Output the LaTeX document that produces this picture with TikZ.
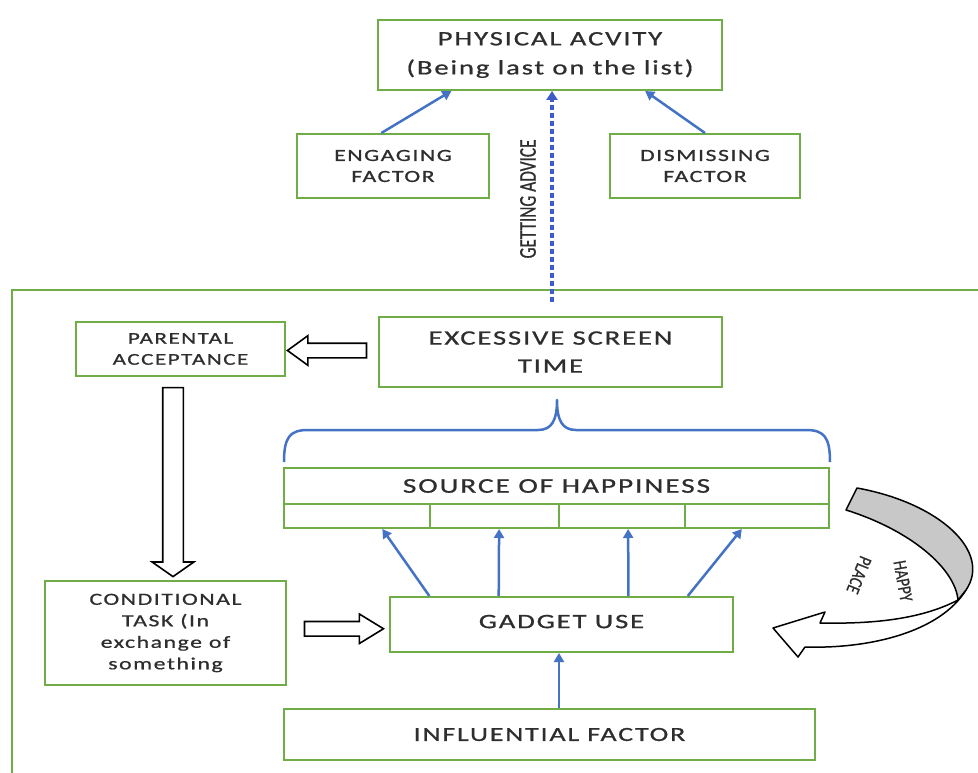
\documentclass[tikz,border=0pt]{standalone}
\usepackage{fontspec}
\setmainfont{Carlito}
\newfontfamily\wf[FakeStretch=1.4,LetterSpace=9,FakeBold=0.8]{Carlito}
\newfontfamily\nf[FakeStretch=0.72,FakeBold=0.6]{Carlito}
\newfontfamily\hf[FakeStretch=0.8,FakeBold=0.5]{Carlito}
\usetikzlibrary{arrows.meta,shapes.arrows,calc}
\definecolor{boxgreen}{HTML}{70AD47}
\definecolor{arrblue}{HTML}{4472C4}
\definecolor{dashblue}{HTML}{3F5BC8}
\definecolor{txt}{HTML}{2E2E2E}
\definecolor{ribbon}{HTML}{C8C8C8}
\begin{document}
\begin{tikzpicture}[x=1pt,y=-1pt,
  gbox/.style={draw=boxgreen,line width=2pt,fill=white,inner sep=0pt,align=center,text=txt},
  barrow/.style={draw=arrblue,line width=2.5pt,-{Triangle[length=9pt,width=10pt]}},
  hollow/.style={single arrow,draw=black,line width=1.6pt,fill=white,inner xsep=0pt},
  curvetext/.style={font=\hf\fontsize{19}{20}\selectfont,text=txt,inner sep=0pt}]
\useasboundingbox (0,0) rectangle (978,773);
\fill[white] (0,0) rectangle (978,773);
% container
\coordinate (cbl) at (12,773);
\coordinate (ctl) at (12,290);
\coordinate (ctr) at (978,290);
\draw[boxgreen,line width=2pt] (cbl) -- (ctl) -- (ctr);
% top boxes
\node[gbox,minimum width=344pt,minimum height=70pt,font=\wf\fontsize{20.5}{29}\selectfont] (phys) at (550,55) {PHYSICAL ACVITY\\(Being last on the list)};
\node[gbox,minimum width=192pt,minimum height=64pt,font=\wf\fontsize{17}{21}\selectfont] (eng) at (393,166) {ENGAGING\\FACTOR};
\node[gbox,minimum width=190pt,minimum height=64pt,font=\wf\fontsize{17}{21}\selectfont] (dis) at (705,166) {DISMISSING\\FACTOR};
\draw[barrow] ($(eng.north west)!0.44!(eng.north east)$) -- ($(phys.south west)!0.215!(phys.south east)$);
\draw[barrow] ($(dis.north west)!0.5!(dis.north east)$) -- ($(phys.south west)!0.775!(phys.south east)$);
\coordinate (ga) at (552,302);
\draw[dashblue,line width=3.5pt,dash pattern=on 5pt off 3pt,-{Triangle[length=9pt,width=11pt]}] (ga) -- (ga |- phys.south);
\node[rotate=90,font=\nf\fontsize{24}{26}\selectfont,text=txt] (gal) at (528,199) {GETTING ADVICE};
% inner boxes
\node[gbox,minimum width=343pt,minimum height=70pt,font=\wf\fontsize{20.5}{28}\selectfont] (exc) at (550.5,352) {EXCESSIVE SCREEN\\TIME};
\node[gbox,minimum width=209pt,minimum height=54pt,font=\wf\fontsize{16.5}{21}\selectfont] (par) at (180.5,349) {PARENTAL\\ACCEPTANCE};
\node[gbox,minimum width=241pt,minimum height=104pt,font=\wf\fontsize{17}{21.5}\selectfont] (cond) at (165.5,633) {CONDITIONAL\\TASK (In\\exchange of\\something};
\node[gbox,minimum width=343pt,minimum height=55pt,font=\wf\fontsize{20.5}{24}\selectfont] (gad) at (561.5,624.5) {\raisebox{6pt}{GADGET USE}};
\node[gbox,minimum width=531pt,minimum height=51pt,font=\wf\fontsize{20}{24}\selectfont] (inf) at (549.5,734.5) {INFLUENTIAL FACTOR};
% source of happiness
\node[gbox,minimum width=545pt,minimum height=36pt,font=\wf\fontsize{21}{24}\selectfont] (soh) at (556.5,486) {SOURCE OF HAPPINESS};
\node[gbox,minimum width=146pt,minimum height=24pt] (c1) at (357,516) {};
\node[gbox,minimum width=129pt,minimum height=24pt] (c2) at (494.5,516) {};
\node[gbox,minimum width=126pt,minimum height=24pt] (c3) at (622,516) {};
\node[gbox,minimum width=144pt,minimum height=24pt] (c4) at (757,516) {};
% brace
\draw[arrblue,line width=2.5pt,line join=round]
  (284,462) .. controls (284,437) and (290,430) .. (308,430) -- (538,430)
  .. controls (552,430) and (557,420) .. (557,400)
  .. controls (557,420) and (562,430) .. (576,430) -- (806,430)
  .. controls (824,430) and (830,437) .. (830,462);
% gadget to source
\draw[barrow] ($(gad.north west)!0.117!(gad.north east)$) -- ($(c1.south west)!0.671!(c1.south east)$);
\draw[barrow] ($(gad.north west)!0.318!(gad.north east)$) -- ($(c2.south west)!0.535!(c2.south east)$);
\draw[barrow] ($(gad.north west)!0.694!(gad.north east)$) -- ($(c3.south west)!0.548!(c3.south east)$);
\draw[barrow] ($(gad.north west)!0.866!(gad.north east)$) -- ($(c4.south west)!0.396!(c4.south east)$);
\draw[barrow] (inf.north -| 559,0) -- (gad.south -| 559,0);
% hollow block arrows
\node[hollow,shape border rotate=180,minimum height=79pt,inner ysep=6.5pt,minimum width=28pt,single arrow head extend=7.5pt,single arrow tip angle=72] (h1) at ($(exc.west)!0.5!(par.east)$) {};
\node[hollow,rotate=-90,minimum height=189pt,inner ysep=9.5pt,minimum width=40pt,single arrow head extend=10.5pt,single arrow tip angle=110] (h2) at ($(par.south)!0.5!(cond.north)$) {};
\node[hollow,shape border rotate=0,minimum height=79pt,inner ysep=6.5pt,minimum width=28pt,single arrow head extend=7.5pt,single arrow tip angle=63] (h3) at ($(cond.east)!0.5!(gad.west)$) {};
% happy place ribbon arrow
\draw[black,line width=1.5pt,fill=white,line join=round]
  (958,600) .. controls (920,620) and (870,624) .. (820,623) -- (825,612) -- (773,628) -- (798,657) -- (805,647)
  .. controls (870,649) and (940,632) .. (966,590) -- cycle;
\draw[black,line width=1.5pt,fill=ribbon,line join=round]
  (846,510) -- (857,488) .. controls (940,503) and (992,552) .. (966,590) -- (958,600)
  .. controls (955,568) and (910,530) .. (846,510) -- cycle;
\node[curvetext,rotate=-80] (hp1) at (903,581) {HAPPY};
\node[curvetext,rotate=-112] (hp2) at (859,575) {PLACE};
\end{tikzpicture}
\end{document}
